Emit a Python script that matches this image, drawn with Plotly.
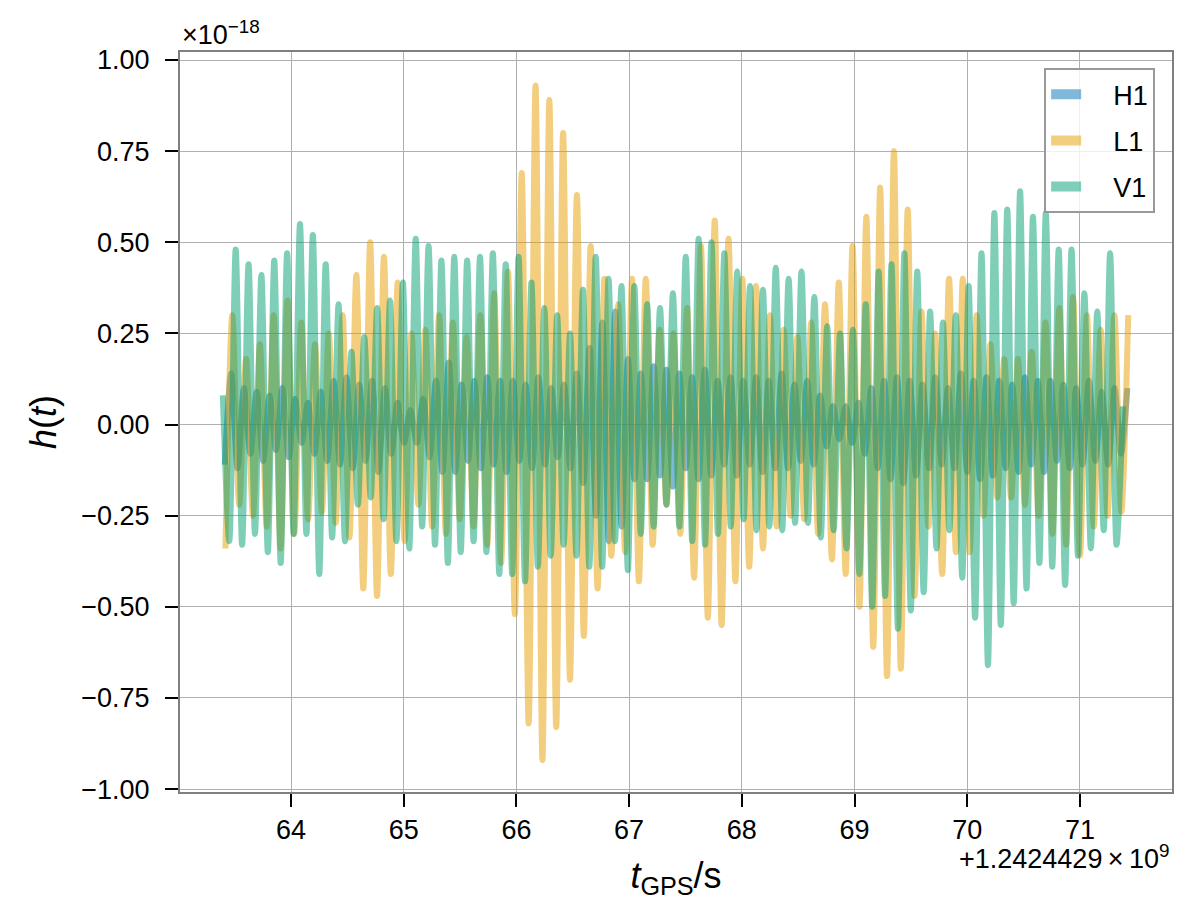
import numpy as np
import plotly.graph_objects as go

# ---------------- data (strain in units of 1e-18, time in s after 1242442900) ----------------
gps_offset_label = "+1.2424429\u2009\u00d7\u200910<sup>9</sup>"
y_ticks = [-1.0, -0.75, -0.5, -0.25, 0.0, 0.25, 0.5, 0.75, 1.0]
x_ticks = [64, 65, 66, 67, 68, 69, 70, 71]

# H1: successive extrema (trough, peak, ...), sampled every half cycle
h1_t0, h1_half = 63.412, 0.0568
h1_ext = [
    -0.11, 0.14, -0.12, 0.10, -0.08, 0.09, -0.10, 0.08, -0.07, 0.10,
    -0.09, 0.07, -0.05, 0.06, -0.08, 0.09, -0.10, 0.12, -0.11, 0.13,
    -0.12, 0.11, -0.10, 0.12, -0.13, 0.10, -0.08, 0.06, -0.05, 0.04,
    -0.05, 0.07, -0.09, 0.12, -0.13, 0.17, -0.13, 0.11, -0.10, 0.12,
    -0.12, 0.13, -0.11, 0.12, -0.13, 0.12, -0.10, 0.11, -0.12, 0.13,
    -0.11, 0.10, -0.09, 0.11, -0.12, 0.14, -0.16, 0.21, -0.25, 0.28,
    -0.32, 0.31, -0.28, 0.18, -0.15, 0.14, -0.15, 0.16, -0.14, 0.15,
    -0.17, 0.14, -0.12, 0.13, -0.15, 0.15, -0.14, 0.12, -0.11, 0.13,
    -0.14, 0.12, -0.11, 0.13, -0.13, 0.12, -0.12, 0.14, -0.12, 0.11,
    -0.10, 0.12, -0.11, 0.08, -0.06, 0.05, -0.04, 0.05, -0.05, 0.06,
    -0.08, 0.10, -0.12, 0.12, -0.15, 0.13, -0.16, 0.12, -0.14, 0.11,
    -0.12, 0.13, -0.11, 0.10, -0.12, 0.14, -0.13, 0.12, -0.15, 0.13,
    -0.14, 0.12, -0.12, 0.11, -0.13, 0.13, -0.11, 0.12, -0.13, 0.12,
    -0.10, 0.11, -0.12, 0.10, -0.11, 0.12, -0.10, 0.09, -0.11, 0.10,
    -0.08, 0.10,
]

# L1: successive extrema (trough, peak, ...)
l1_t0, l1_half = 63.418, 0.06115
l1_ext = [
    -0.34, 0.30, -0.22, 0.18, -0.25, 0.22, -0.28, 0.30, -0.34, 0.34,
    -0.30, 0.28, -0.26, 0.22, -0.24, 0.25, -0.27, 0.30, -0.31, 0.41,
    -0.45, 0.50, -0.47, 0.46, -0.41, 0.39, -0.32, 0.25, -0.22, 0.26,
    -0.28, 0.30, -0.30, 0.28, -0.26, 0.24, -0.28, 0.30, -0.33, 0.36,
    -0.38, 0.42, -0.52, 0.69, -0.82, 0.93, -0.92, 0.89, -0.83, 0.80,
    -0.70, 0.63, -0.58, 0.49, -0.45, 0.40, -0.36, 0.33, -0.35, 0.40,
    -0.43, 0.40, -0.33, 0.26, -0.22, 0.25, -0.30, 0.32, -0.42, 0.49,
    -0.53, 0.56, -0.55, 0.51, -0.43, 0.40, -0.39, 0.38, -0.34, 0.30,
    -0.28, 0.26, -0.25, 0.24, -0.26, 0.28, -0.30, 0.33, -0.37, 0.39,
    -0.41, 0.49, -0.50, 0.57, -0.61, 0.65, -0.69, 0.75, -0.67, 0.59,
    -0.47, 0.31, -0.28, 0.25, -0.41, 0.40, -0.35, 0.40, -0.35, 0.30,
    -0.25, 0.22, -0.20, 0.18, -0.20, 0.18, -0.22, 0.20, -0.25, 0.28,
    -0.30, 0.32, -0.33, 0.35, -0.36, 0.30, -0.28, 0.26, -0.25, 0.30,
    -0.24, 0.30,
]

# V1: successive extrema (peak, trough, ...)
v1_t0, v1_half = 63.395, 0.05705
v1_peaks = [
    0.08, 0.48, 0.44, 0.41, 0.45, 0.47, 0.55, 0.52, 0.44, 0.33,
    0.20, 0.24, 0.32, 0.34, 0.39, 0.51, 0.49, 0.45, 0.46, 0.45,
    0.46, 0.47, 0.44, 0.46, 0.39, 0.32, 0.30, 0.25, 0.37, 0.46,
    0.40, 0.38, 0.38, 0.33, 0.32, 0.36, 0.46, 0.51, 0.50, 0.47,
    0.42, 0.38, 0.37, 0.43, 0.40, 0.42, 0.35, 0.27, 0.25, 0.26,
    0.33, 0.42, 0.44, 0.47, 0.42, 0.31, 0.28, 0.30, 0.38, 0.47,
    0.58, 0.59, 0.64, 0.57, 0.58, 0.48, 0.48, 0.36, 0.31, 0.47,
    0.05,
]
v1_troughs = [
    -0.32, -0.33, -0.30, -0.35, -0.38, -0.30, -0.30, -0.41, -0.31, -0.32,
    -0.22, -0.20, -0.26, -0.32, -0.34, -0.28, -0.33, -0.38, -0.35, -0.32,
    -0.35, -0.41, -0.41, -0.43, -0.39, -0.36, -0.33, -0.36, -0.39, -0.39,
    -0.32, -0.40, -0.30, -0.28, -0.22, -0.28, -0.32, -0.33, -0.30, -0.28,
    -0.26, -0.29, -0.28, -0.29, -0.27, -0.27, -0.31, -0.29, -0.34, -0.41,
    -0.50, -0.47, -0.56, -0.51, -0.46, -0.34, -0.29, -0.42, -0.53, -0.66,
    -0.55, -0.49, -0.45, -0.38, -0.39, -0.44, -0.36, -0.34, -0.29, -0.33,
]

detectors = ["H1", "L1", "V1"]
colors = {"H1": "#0072B2", "L1": "#E69F00", "V1": "#009E73"}

# ---------------- assemble series ----------------
def times(t0, half, n):
    return [t0 + k * half for k in range(n)]

v1_ext = []
for i, p in enumerate(v1_peaks):
    v1_ext.append(p)
    if i < len(v1_troughs):
        v1_ext.append(v1_troughs[i])

series = {
    "H1": (times(h1_t0, h1_half, len(h1_ext)), h1_ext),
    "L1": (times(l1_t0, l1_half, len(l1_ext)), l1_ext),
    "V1": (times(v1_t0, v1_half, len(v1_ext)), v1_ext),
}

FONT = "Liberation Sans, Arial, Helvetica, sans-serif"
TICK_SIZE = 27
TITLE_SIZE = 36
fig = go.Figure()

for det in detectors:
    t, v = series[det]
    fig.add_trace(go.Scatter(
        x=t, y=v, mode="lines", name=det, showlegend=False,
        line=dict(color=colors[det], width=6, shape="spline", smoothing=0.8),
        opacity=0.5, hoverinfo="skip",
    ))

# legend-only handles (thick swatches)
for det in detectors:
    fig.add_trace(go.Scatter(
        x=[None], y=[None], mode="lines", name="\u2003" + det, legendgroup=det,
        line=dict(color=colors[det], width=12), opacity=0.5,
    ))

axis_common = dict(
    showline=True, mirror=True, linecolor="#808080", linewidth=2,
    showgrid=True, gridcolor="#b0b0b0", gridwidth=1,
    ticks="outside", ticklen=13, tickwidth=2, tickcolor="black",
    tickfont=dict(family=FONT, size=TICK_SIZE, color="black"),
    zeroline=False,
)

fig.update_xaxes(
    range=[63.015, 71.817], tickmode="array", tickvals=x_ticks,
    ticktext=[str(v) for v in x_ticks], ticklabelstandoff=0,
    title=dict(text="<i>t</i><sub>GPS</sub>/s", font=dict(family=FONT, size=TITLE_SIZE, color="black"), standoff=18),
    **axis_common,
)
fig.update_yaxes(
    range=[-1.008, 1.022], tickmode="array", tickvals=y_ticks,
    ticktext=[f"{v:.2f}".replace("-", "\u2212") for v in y_ticks], ticklabelstandoff=10,
    title=dict(text="<i>h</i>(<i>t</i>)", font=dict(family=FONT, size=TITLE_SIZE, color="black"), standoff=14),
    **axis_common,
)

fig.add_annotation(
    xref="paper", yref="paper", x=0.0, y=1.0, xanchor="left", yanchor="bottom",
    text="\u00d710<sup>\u221218</sup>", showarrow=False, yshift=0,
    font=dict(family=FONT, size=TICK_SIZE, color="black"),
)
fig.add_annotation(
    xref="paper", yref="paper", x=1.0, y=0.0, xanchor="right", yanchor="top",
    text=gps_offset_label, showarrow=False, yshift=-46,
    font=dict(family=FONT, size=TICK_SIZE, color="black"),
)

fig.update_layout(
    width=1190, height=920,
    margin=dict(l=180, r=18, t=52, b=128),
    paper_bgcolor="white", plot_bgcolor="white",
    showlegend=True,
    legend=dict(
        x=0.983, y=0.978, xanchor="right", yanchor="top",
        bgcolor="rgba(255,255,255,0.8)", bordercolor="#999999", borderwidth=2,
        font=dict(family=FONT, size=27, color="black"),
        tracegroupgap=8,
    ),
)

fig.write_html("out.html")
